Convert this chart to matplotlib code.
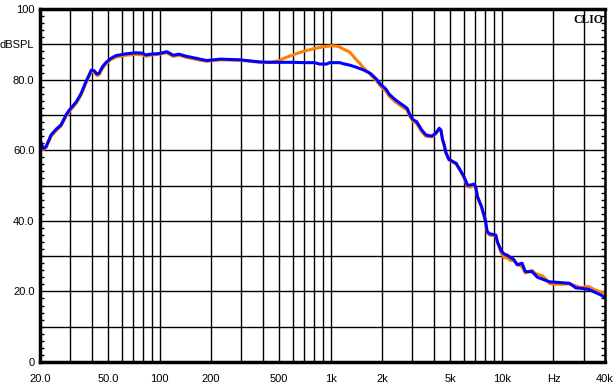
import matplotlib
matplotlib.use("Agg")
import matplotlib.pyplot as plt
from matplotlib.ticker import FixedLocator

freq = [20, 20.9, 21.7, 23.2, 24.8, 26.5, 28.4, 29.7, 32.6, 34.8, 37.1, 39.9, 41.5, 43.0, 44.3,
        46.4, 48.5, 51.9, 55.6, 63.5, 72.6, 78.9, 83.1, 88.6, 100, 110, 120, 130, 143, 165,
        172, 188, 226, 294, 385, 440, 503, 530, 600, 700, 805, 860, 943, 985, 1000, 1080,
        1130, 1180, 1290, 1410, 1480, 1540, 1700, 1850, 1940, 2100, 2200, 2380, 2540, 2720,
        2800, 2900, 3030, 3170, 3400, 3600, 3900, 4100, 4300, 4400, 4500, 4600, 4700, 4900,
        5000, 5200, 5400, 5700, 6000, 6300, 6500, 6900, 7050, 7200, 7600, 8000, 8200, 8500,
        9200, 9400, 9900, 10300, 10800, 11200, 11700, 12300, 13100, 13700, 15000, 15700,
        16100, 17400, 19000, 20600, 24800, 27000, 28700, 32000, 34400, 37800, 40000]

blue_db = [62.9, 60.5, 61.0, 64.3, 65.9, 67.1, 70.0, 71.4, 73.7, 76.1, 79.4, 82.7, 82.5, 81.6, 81.8,
           83.7, 84.8, 86.0, 86.8, 87.3, 87.6, 87.5, 87.0, 87.2, 87.4, 87.9, 86.9, 87.2, 86.6, 86.0,
           85.8, 85.4, 85.8, 85.6, 85.0, 84.9, 84.9, 84.9, 84.9, 84.8, 84.8, 84.4, 84.4, 84.8, 84.8, 84.8,
           84.8, 84.5, 84.1, 83.5, 83.1, 82.8, 81.8, 80.1, 78.8, 77.3, 75.8, 74.3, 73.3, 72.3,
           71.8, 70.0, 68.6, 68.1, 65.7, 64.3, 64.0, 64.8, 66.2, 65.7, 63.0, 61.5, 59.4, 57.4,
           57.2, 56.7, 56.3, 54.4, 52.5, 50.1, 50.1, 50.4, 49.2, 46.8, 44.0, 40.2, 36.9, 36.3,
           36.0, 34.1, 31.5, 30.6, 30.2, 29.6, 29.1, 27.5, 28.0, 25.6, 25.6, 24.6,
           24.0, 23.4, 22.7, 22.6, 22.3, 21.0, 20.9, 20.6, 19.9, 19.0, 18.3]

orange_db = [62.6, 60.2, 60.7, 63.9, 65.5, 66.8, 69.6, 71.0, 73.3, 75.7, 79.0, 82.3, 82.0, 81.1, 81.4,
             83.2, 84.4, 85.7, 86.4, 86.9, 87.1, 87.0, 86.6, 86.9, 87.2, 87.6, 86.6, 86.9, 86.3, 85.7,
             85.5, 85.2, 85.6, 85.5, 84.9, 84.9, 85.4, 86.0, 87.0, 88.1, 88.8, 89.1, 89.4, 89.5, 89.6, 89.5,
             89.2, 88.7, 87.8, 85.6, 84.6, 83.5, 81.5, 79.6, 78.3, 76.7, 75.2, 73.7, 72.7, 71.7,
             71.2, 69.5, 68.1, 67.6, 65.2, 63.9, 63.8, 64.6, 66.0, 65.5, 62.8, 61.3, 59.2, 57.2,
             57.0, 56.5, 56.0, 54.2, 52.2, 49.7, 49.5, 50.2, 49.0, 46.6, 43.8, 40.0, 36.6, 35.9,
             35.8, 33.9, 30.9, 29.6, 29.4, 28.8, 28.7, 27.8, 27.0, 25.2, 26.0, 25.0,
             24.9, 24.3, 22.2, 22.0, 22.1, 21.6, 21.1, 21.4, 20.6, 19.8, 19.5]

xtick_vals = [20, 50, 100, 200, 500, 1000, 2000, 5000, 10000, 20000, 40000]
xtick_labels = ["20.0", "50.0", "100", "200", "500", "1k", "2k", "5k", "10k", "Hz", "40k"]
ytick_vals = [0, 20, 40, 60, 80, 90, 100]
ytick_labels = ["0", "20.0", "40.0", "60.0", "80.0", "dBSPL", "100"]

grid_x = ([20, 30, 40, 50, 60, 70, 80, 90] + [100 * i for i in range(1, 10)]
          + [1000 * i for i in range(1, 10)] + [10000, 20000, 30000, 40000])

fig = plt.figure(figsize=(6.16, 3.87), dpi=100)
ax = fig.add_axes([40 / 616, 25 / 387, 565 / 616, 353 / 387])
ax.set_xscale("log")
ax.set_xlim(20, 40000)
ax.set_ylim(0, 100)

for gx in grid_x:
    ax.axvline(gx, color="black", lw=1.0, zorder=1)
for gy in range(10, 100, 10):
    ax.axhline(gy, color="black", lw=1.0, zorder=1)

ax.plot(freq, orange_db, color="#ff8000", lw=2.2, zorder=3)
ax.plot(freq, blue_db, color="#0000ff", lw=2.2, zorder=4)

font = dict(family="Liberation Sans", size=8)
ax.xaxis.set_major_locator(FixedLocator(xtick_vals))
ax.xaxis.set_minor_locator(FixedLocator([]))
ax.set_xticklabels(xtick_labels, **font)
ax.yaxis.set_major_locator(FixedLocator(ytick_vals))
ax.set_yticklabels(ytick_labels, **font)
ax.yaxis.set_minor_locator(FixedLocator(list(range(0, 101, 2))))
ax.tick_params(axis="x", which="both", length=0, pad=9)
ax.tick_params(axis="y", which="major", length=0, pad=4)
ax.tick_params(axis="y", which="minor", direction="in", length=3, width=1,
               left=True, right=True)

for side, w in [("top", 2.5), ("left", 2.5), ("bottom", 2.5), ("right", 1.8)]:
    ax.spines[side].set_linewidth(w)
    ax.spines[side].set_zorder(5)

ax.text(0.997, 0.985, "CLIO", transform=ax.transAxes, ha="right", va="top",
        family="Liberation Serif", fontweight="bold", fontsize=8.5, zorder=6)

fig.savefig("out.png", dpi=100)
